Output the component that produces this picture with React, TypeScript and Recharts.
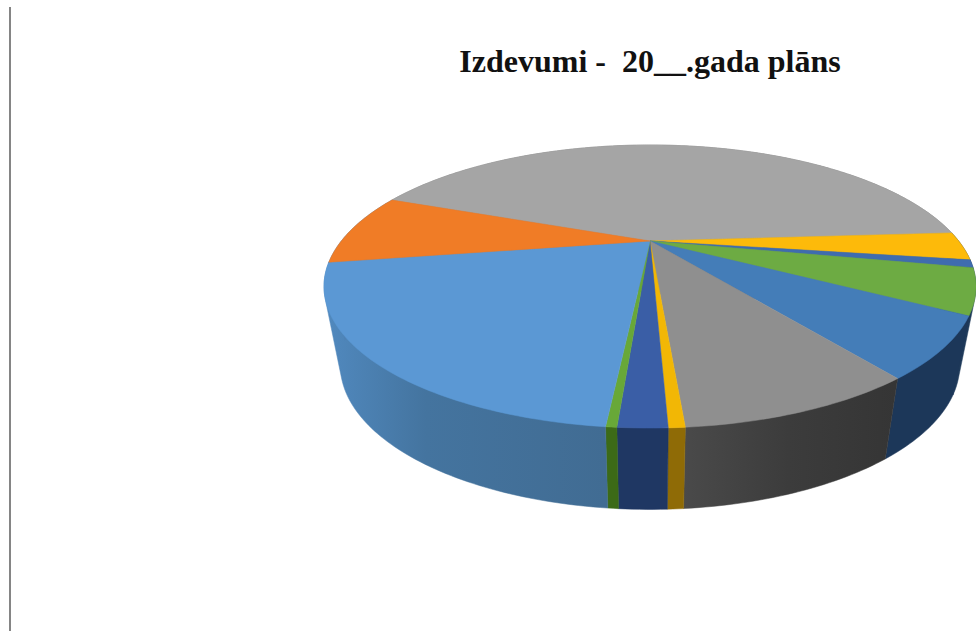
import { PieChart, Pie } from 'recharts';

const CHART_TITLE = 'Izdevumi -  20__.gada plāns';

// share of each slice in percent, clockwise from the big grey one
const sliceValues = [43.1, 3.3, 0.9, 5.1, 6.6, 8.9, 0.6, 1.8, 0.4, 20.9, 8.4];
const topColors = [
  '#a5a5a5', '#fdba0a', '#3f6cae', '#6dab43', '#447db8', '#8f8f8f',
  '#f2b705', '#3a5ea6', '#68a838', '#5b98d4', '#f07c26',
];
const sideColors = [
  '#7f7f7f', '#1f3a5a', '#1f3a5a', '#1f3a5a', '#1c3759', 'url(#sideGrey)',
  '#8f6b06', '#1f3763', '#3c6a17', 'url(#sideBlue)', '#4f82b5',
];

const data = sliceValues.map((value, i) => ({
  value,
  fill: topColors[i],
  sideFill: sideColors[i],
}));

// tilted disc: perspective projection of the unit circle around the apex
const SCALE_X = 308.7;
const SCALE_Y = 126.9;
const PERSPECTIVE = -0.3216;
const WALL_DROP = 77.6;
const WALL_SCALE_X = 0.95;
const WALL_SCALE_Y = 1.02;

const project = (angle: number) => {
  const rad = (-angle * Math.PI) / 180;
  const d = 1 + PERSPECTIVE * Math.sin(rad);
  return [(SCALE_X * Math.cos(rad)) / d, (SCALE_Y * Math.sin(rad)) / d];
};

const arcPoints = (start: number, end: number) => {
  const steps = Math.max(2, Math.ceil(Math.abs(end - start)));
  const pts = [];
  for (let i = 0; i <= steps; i++) {
    pts.push(project(start + ((end - start) * i) / steps));
  }
  return pts;
};

// walls are the hull of the upper and lower rim, so the outline stays tangent
const convexHull = (points: number[][]) => {
  const sorted = [...points].sort((p, q) => p[0] - q[0] || p[1] - q[1]);
  const cross = (o: number[], p: number[], q: number[]) =>
    (p[0] - o[0]) * (q[1] - o[1]) - (p[1] - o[1]) * (q[0] - o[0]);
  const walk = (list: number[][]) => {
    const out: number[][] = [];
    for (const p of list) {
      while (out.length >= 2 && cross(out[out.length - 2], out[out.length - 1], p) <= 0) out.pop();
      out.push(p);
    }
    out.pop();
    return out;
  };
  return [...walk(sorted), ...walk([...sorted].reverse())];
};

const TopFace = (props: any) => {
  const { cx, cy, startAngle, endAngle, fill } = props;
  const pts = arcPoints(startAngle, endAngle).map(([x, y]) => `${cx + x},${cy + y}`);
  return <path d={`M${cx},${cy}L${pts.join('L')}Z`} fill={fill} stroke={fill} strokeWidth={0.5} />;
};

const SideWall = (props: any) => {
  const { cx, cy, startAngle, endAngle, sideFill, payload } = props;
  const fill = sideFill ?? payload?.sideFill;
  const pts = arcPoints(startAngle, endAngle);
  const upper = pts.map(([x, y]) => [cx + x, cy + y]);
  const lower = pts.map(([x, y]) => [cx + x * WALL_SCALE_X, cy + WALL_DROP + y * WALL_SCALE_Y]);
  const hull = convexHull([...upper, ...lower]).map(([x, y]) => `${x},${y}`);
  return <path d={`M${hull.join('L')}Z`} fill={fill} stroke={fill} strokeWidth={0.5} />;
};

export default function App() {
  return (
    <div style={{ position: 'absolute', left: 0, top: 0, width: 976, height: 631, background: '#fff', overflow: 'hidden' }}>
      <div style={{ position: 'absolute', left: 9, top: 7, width: 2, height: 624, background: '#858585' }} />
      <PieChart width={976} height={631} margin={{ top: 0, right: 0, bottom: 0, left: 0 }}>
        <defs>
          <linearGradient id="sideBlue" gradientUnits="userSpaceOnUse" x1="330" y1="0" x2="604" y2="0">
            <stop offset="0" stopColor="#5088bd" />
            <stop offset="0.35" stopColor="#44749f" />
            <stop offset="1" stopColor="#416c93" />
          </linearGradient>
          <linearGradient id="sideGrey" gradientUnits="userSpaceOnUse" x1="683" y1="0" x2="895" y2="0">
            <stop offset="0" stopColor="#4a4a4a" />
            <stop offset="0.5" stopColor="#3c3c3c" />
            <stop offset="1" stopColor="#353535" />
          </linearGradient>
        </defs>
        <Pie
          data={data}
          dataKey="value"
          cx={650}
          cy={241}
          outerRadius={100}
          startAngle={158.9}
          endAngle={-201.1}
          stroke="none"
          isAnimationActive={false}
          shape={SideWall}
        />
        <Pie
          data={data}
          dataKey="value"
          cx={650}
          cy={241}
          outerRadius={100}
          startAngle={158.9}
          endAngle={-201.1}
          stroke="none"
          isAnimationActive={false}
          shape={TopFace}
        />
        <text
          x={650}
          y={72}
          textAnchor="middle"
          style={{ fontFamily: '"Liberation Serif", serif', fontWeight: 700, fontSize: 32, whiteSpace: 'pre' }}
          fill="#111"
        >
          {CHART_TITLE}
        </text>
      </PieChart>
    </div>
  );
}
